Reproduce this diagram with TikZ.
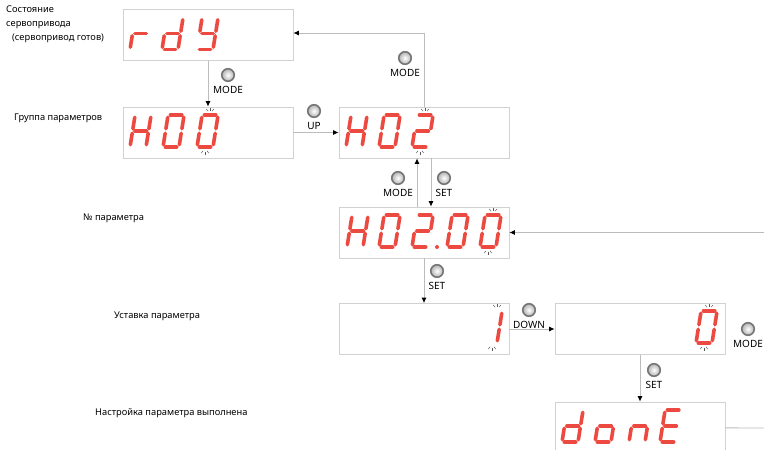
\documentclass[tikz,border=0pt]{standalone}
\usepackage{fontspec}
\setmainfont{Noto Sans}
\usepackage{tikz}
\usetikzlibrary{arrows.meta}
\definecolor{segred}{RGB}{236, 74, 64}
\definecolor{frame}{RGB}{210, 210, 210}
\definecolor{wire}{RGB}{188, 188, 188}
\definecolor{knob}{RGB}{118, 118, 118}
\newcommand*{\segw}{16}
\newcommand*{\segh}{32}

% segment lists (corner pairs)
\newcommand*{\segR}{ml/bl, ml/mr}
\newcommand*{\segD}{tr/mr, mr/br, bl/br, ml/bl, ml/mr}
\newcommand*{\segY}{tr/mr, mr/br, bl/br, tl/ml, ml/mr}
\newcommand*{\segH}{tr/mr, mr/br, ml/bl, tl/ml, ml/mr}
\newcommand*{\segZero}{tl/tr, tr/mr, mr/br, bl/br, ml/bl, tl/ml}
\newcommand*{\segTwo}{tl/tr, tr/mr, ml/mr, ml/bl, bl/br}
\newcommand*{\segOne}{tr/mr, mr/br}
\newcommand*{\segO}{mr/br, bl/br, ml/bl, ml/mr}
\newcommand*{\segN}{mr/br, ml/bl, ml/mr}
\newcommand*{\segE}{tl/tr, bl/br, ml/bl, tl/ml, ml/mr}

% seven segment digit, bottom left corner at (#1, #2)
\newcommand*{\sevenseg}[3]{%
  \begin{scope}[shift={(#1, #2)}, y=1pt, xslant=0.16]
    \coordinate (tl) at (0, \segh);
    \coordinate (tr) at (\segw, \segh);
    \coordinate (ml) at (0, \segh / 2);
    \coordinate (mr) at (\segw, \segh / 2);
    \coordinate (bl) at (0, 0);
    \coordinate (br) at (\segw, 0);
    \foreach \p/\q in #3 {
      \draw[segline] (\p) -- (\q);
    }
  \end{scope}}

% blinking marks above and below a digit
\newcommand*{\blink}[2]{%
  \begin{scope}[shift={(#1, #2)}, y=1pt]
    \foreach \a in {50, 90, 130} {
      \draw[spark, shift={(13.1, 33.5)}] (\a:3) -- (\a:6);
      \draw[spark, shift={(8, -1.5)}] (\a + 180:3) -- (\a + 180:6);
    }
  \end{scope}}

\begin{document}
\begin{tikzpicture}[
   x=1pt, y=-1pt,
   disp/.style={rectangle, draw=frame, line width=0.8, fill=white,
                minimum width=170, minimum height=51, inner sep=0},
   segline/.style={draw=segred, line width=3.6, line cap=round,
                   shorten <=2.3pt, shorten >=2.3pt},
   spark/.style={draw=black!65, line width=0.45},
   link/.style={draw=wire, line width=0.8, -{Latex[length=5.5pt, width=5pt, black]}},
   btn/.style={circle, draw=knob, line width=1.6, inner color=white,
               outer color=black!30, minimum size=12.5, inner sep=0},
   btnlbl/.style={font=\fontsize{10}{11}\selectfont, inner sep=0},
   lbl/.style={font=\fontsize{9.3}{14}\selectfont, inner sep=0, align=left}
  ]

  \useasboundingbox (0, 0) rectangle (764, 450);

  % display boxes
  \node (rdy)  at (208, 35)    [disp] {};
  \node (grp)  at (208, 132.5) [disp] {};
  \node (grpb) at (424, 132.5) [disp] {};
  \node (par)  at (424, 232.5) [disp] {};
  \node (val)  at (424, 329)   [disp] {};
  \node (valn) at (640, 329)   [disp] {};
  \node (done) at (640, 427.5) [disp] {};

  % digits
  \sevenseg{130}{49.5}{\segR}
  \sevenseg{162}{49.5}{\segD}
  \sevenseg{197}{49.5}{\segY}

  \sevenseg{130}{147}{\segH}
  \sevenseg{163}{147}{\segZero}
  \sevenseg{197}{147}{\segZero}
  \blink{197}{147}

  \sevenseg{346}{147}{\segH}
  \sevenseg{379}{147}{\segZero}
  \sevenseg{412}{147}{\segTwo}
  \blink{412}{147}

  \sevenseg{347}{247}{\segH}
  \sevenseg{379}{247}{\segZero}
  \sevenseg{412}{247}{\segTwo}
  \fill[segred] (437, 247) circle (2);
  \sevenseg{447}{247}{\segZero}
  \sevenseg{480}{247}{\segZero}
  \blink{480}{247}

  \sevenseg{481}{343}{\segOne}
  \blink{484}{343}

  \sevenseg{696}{343}{\segZero}
  \blink{696}{343}

  \sevenseg{562}{442}{\segD}
  \sevenseg{595}{442}{\segO}
  \sevenseg{629}{442}{\segN}
  \sevenseg{660}{442}{\segE}

  % connectors
  \foreach \B/\E in {rdy/grp, grp/grpb, par/val, val/valn, valn/done} {
    \draw[link] (\B) -- (\E);
  }
  \draw[link] (grpb.north) |- ([yshift=2]rdy.east);
  \draw[link] ([xshift=-7]par.north) -- ([xshift=-7]grpb.south);
  \draw[link] ([xshift=7]grpb.south) -- ([xshift=7]par.north);
  \coordinate (back) at (764, 232.5);
  \coordinate (out) at (764, 428);
  \draw[link] (back) -- (par);
  \draw[draw=wire, line width=0.8] (done) -- (out);

  % keys
  \foreach \n/\x/\y/\t in {m1/228/75/MODE, up/314/111/UP, m2/405/58/MODE,
                           m3/398/178/MODE, s1/444/178/SET, s2/437/271/SET,
                           dn/529/310/DOWN, s3/654/370/SET, m4/748/329/MODE} {
    \node (k\n) at (\x, \y) [btn] {};
    \node (t\n) at (\x, \y + 15) [btnlbl] {\t};
  }

  % captions
  \node (cstate) at (6, 6) [lbl, anchor=north west]
    {Состояние\\сервопривода\\\hspace{6pt}(сервопривод готов)};
  \node (cgroup) at (14, 118) [lbl, anchor=west] {Группа параметров};
  \node (cnum)   at (83, 218) [lbl, anchor=west] {№ параметра};
  \node (cset)   at (114, 316) [lbl, anchor=west] {Уставка параметра};
  \node (cdone)  at (95, 413) [lbl, anchor=west] {Настройка параметра выполнена};

\end{tikzpicture}
\end{document}
